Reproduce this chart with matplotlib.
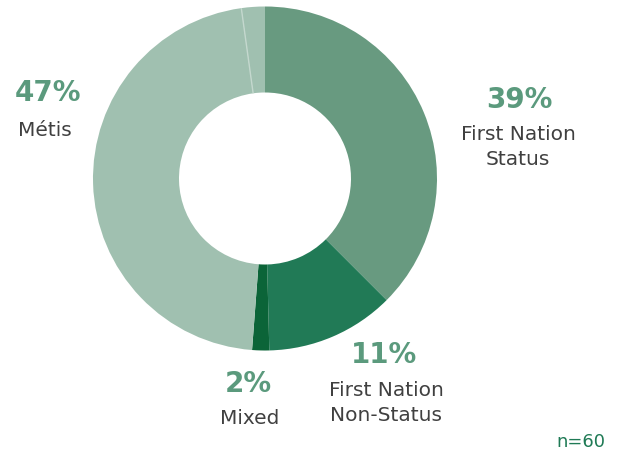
import matplotlib
matplotlib.use("Agg")
import matplotlib.pyplot as plt
import numpy as np

categories = ["First Nation Status", "First Nation Non-Status", "Mixed", "Métis", "Other"]
values = [37.5, 12.1, 1.6, 46.6, 2.2]
pct_labels = ["39%", "11%", "2%", "47%", ""]
name_labels = ["First Nation\nStatus", "First Nation\nNon-Status", "Mixed", "Métis", ""]
colors = ["#689a80", "#217a56", "#0b6438", "#a0c0b0", "#a0c0b0"]
n_label = "n=60"

W, H = 624, 457
fig = plt.figure(figsize=(W / 100, H / 100), dpi=100)
ax = fig.add_axes([0, 0, 1, 1])

cx, cy, R, r_in = 265, H - 178.5, 172, 86
wedges, _ = ax.pie(values, colors=colors, startangle=90, counterclock=False,
                   center=(cx, cy), radius=R, frame=True,
                   wedgeprops=dict(width=R - r_in, linewidth=0))
ax.set_xlim(0, W)
ax.set_ylim(0, H)
ax.set_aspect("equal")
ax.axis("off")

# thin separator between Métis and last slice
cum = np.cumsum(values)
ang = np.deg2rad(90 - cum[3] / sum(values) * 360)
ax.plot([cx + r_in * np.cos(ang), cx + R * np.cos(ang)],
        [cy + r_in * np.sin(ang), cy + R * np.sin(ang)],
        color="#c4d8ce", lw=1.0, solid_capstyle="butt")

pct_pos = [(519, 100), (384, 355), (248, 384), (48, 93)]
name_pos = [(518, 147), (386, 403), (250, 419), (45, 130)]
for i in range(4):
    x, y = pct_pos[i]
    ax.text(x, H - y, pct_labels[i], ha="center", va="center", fontsize=20,
            fontweight="bold", color="#5b9a7d", family="DejaVu Sans")
    x, y = name_pos[i]
    ax.text(x, H - y, name_labels[i], ha="center", va="center", fontsize=14.5,
            color="#404040", family="DejaVu Sans", linespacing=1.38)

ax.text(605, H - 442, n_label, ha="right", va="center", fontsize=13,
        color="#1f7a55", family="DejaVu Sans")

fig.savefig("out.png", dpi=100)
